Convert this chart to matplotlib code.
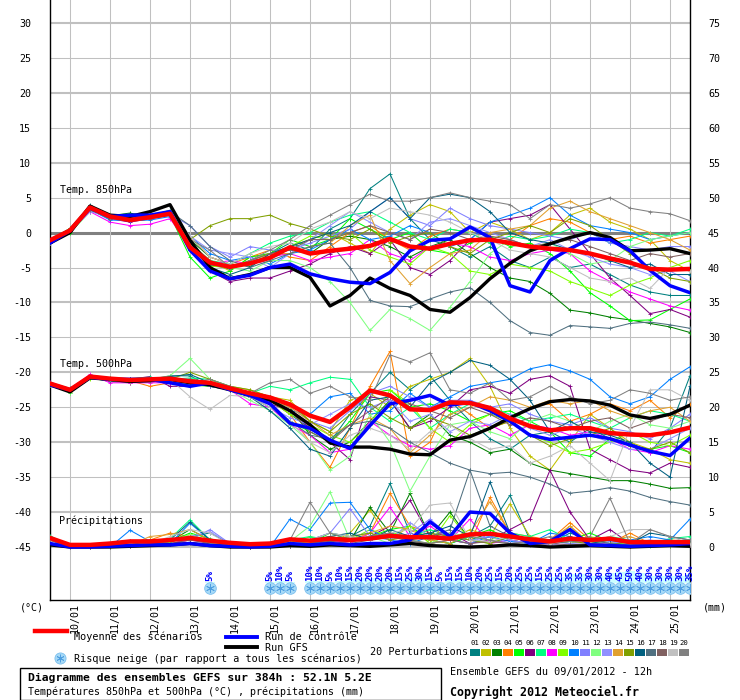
import numpy as np
import matplotlib
matplotlib.use("Agg")
import matplotlib.pyplot as plt
from matplotlib.lines import Line2D
from matplotlib.patches import Rectangle
from matplotlib.transforms import ScaledTranslation

plt.rcParams['font.family'] = ['DejaVu Sans Mono', 'DejaVu Sans']

# ---------------- data ----------------
hours = np.arange(0, 385, 12)          # 12-hourly steps, 0..384h
hours6 = np.arange(0, 385, 6)          # 6-hourly steps for snow risk
date_labels = ['10/01', '11/01', '12/01', '13/01', '14/01', '15/01', '16/01', '17/01',
               '18/01', '19/01', '20/01', '21/01', '22/01', '23/01', '24/01', '25/01']
date_hours = [12 + 24 * d for d in range(16)]

member_colors = ['#008080', '#c0c000', '#008000', '#ff8000', '#00ff00', '#800080', '#00ff80',
                 '#ff00ff', '#80ff00', '#0080ff', '#8080ff', '#80ff80', '#9090ff', '#e0a030',
                 '#80a000', '#006080', '#507080', '#806060', '#c0c0c0', '#808080']

t850_mean = [-1.1, 0.3, 3.6, 2.3, 1.8, 2.2, 2.7, -2.1, -4.3, -4.9, -4.4, -3.6, -2.1, -3.0, -2.6, -2.3, -1.9,
             -0.9, -2.0, -2.3, -1.6, -1.1, -1.0, -1.5, -2.0, -2.3, -2.5, -3.0, -3.7, -4.3, -5.2, -5.3, -5.2]
t850_gfs = [-1.5, 0.0, 3.8, 2.5, 2.3, 3.0, 4.0, -1.1, -5.0, -6.6, -6.0, -5.0, -5.0, -6.4, -10.5, -9.0, -6.5,
            -8.0, -9.0, -11.0, -11.4, -9.3, -6.6, -4.4, -2.6, -1.6, -0.7, 0.0, -0.7, -2.6, -2.5, -2.3, -3.0]
t850_ctrl = [-1.5, 0.3, 3.5, 2.3, 2.5, 2.5, 3.0, -2.5, -5.5, -6.6, -6.1, -5.0, -4.5, -5.9, -6.6, -7.1, -7.3,
             -5.7, -2.6, -1.1, -0.9, 0.8, -0.7, -7.6, -8.5, -4.0, -2.3, -0.9, -1.0, -2.6, -5.4, -7.6, -8.6]
t850_members = [
    [-1.0, 0.6, 3.9, 2.2, 2.0, 2.4, 3.2, -1.5, -4.6, -5.2, -4.0, -3.0, -1.5, -2.5, 0.5, 2.0, 6.3, 8.4, 2.0, -1.0, -2.0, -3.5, -2.0, -4.0, -5.0, -3.5, -5.0, -4.5, -6.0, -7.5, -8.5, -9.0, -9.0],
    [-1.3, 0.4, 3.6, 2.6, 2.4, 2.0, 3.0, -2.0, -4.0, -5.5, -3.5, -3.0, -2.0, -1.0, 0.0, -1.5, -3.0, 0.5, 2.5, 4.0, 3.0, 0.0, 1.5, 0.5, -1.0, 0.0, 2.5, 3.5, 1.5, 0.5, -1.0, -4.0, -5.5],
    [-1.5, 0.2, 3.4, 2.4, 2.8, 2.2, 2.8, -1.0, -3.5, -4.5, -4.8, -3.0, -2.5, -3.0, -1.0, -0.5, -1.0, -2.0, -3.5, -2.0, -1.0, -3.0, -5.0, -6.5, -7.0, -8.7, -11.1, -11.5, -12.1, -12.5, -13.0, -13.5, -14.3],
    [-1.2, 0.5, 3.2, 2.0, 2.3, 2.5, 2.9, -0.5, -3.5, -4.5, -3.5, -2.5, -3.5, -4.0, -2.0, 0.0, 1.0, -1.0, -2.5, -0.5, 0.5, 0.0, -1.5, -1.0, 1.0, 2.0, 1.5, 0.0, -1.0, -0.5, -1.5, -1.0, -0.5],
    [-1.5, 0.0, 3.0, 2.5, 1.8, 2.5, 2.5, -3.5, -6.5, -5.5, -3.5, -3.0, -1.0, -2.0, -1.0, 2.0, 0.5, -1.0, 0.0, -2.5, -3.0, -1.5, -0.5, -2.0, -1.5, -3.0, -5.5, -8.6, -10.5, -12.6, -12.5, -11.0, -9.5],
    [-1.5, 0.3, 3.3, 2.0, 1.5, 2.0, 2.5, -2.5, -5.5, -7.0, -6.5, -6.5, -5.5, -4.5, -3.0, -2.0, -3.0, -1.0, -5.0, -6.0, -4.0, -1.0, 1.5, 2.0, 2.5, 4.0, 0.5, -3.0, -6.5, -9.0, -11.6, -11.0, -12.1],
    [-1.0, 0.5, 3.5, 2.4, 2.0, 2.5, 3.0, -1.5, -4.0, -4.5, -3.0, -1.5, -0.5, 0.0, 1.5, 2.5, 3.0, 1.5, 0.0, -1.0, 0.5, 0.0, -1.5, -0.5, -1.0, -0.5, 0.5, 0.0, -1.5, -1.0, 0.0, -0.5, 0.5],
    [-1.5, 0.2, 3.0, 1.5, 1.0, 1.2, 2.0, -2.0, -4.5, -4.0, -4.5, -3.5, -3.0, -4.0, -3.5, -3.0, -1.0, -3.0, -4.0, -2.0, -1.5, -2.0, -3.5, -4.0, -3.0, -2.5, -3.0, -5.5, -7.0, -8.5, -9.5, -10.5, -11.1],
    [-1.3, 0.4, 3.6, 2.2, 2.0, 2.3, 2.8, -2.0, -4.8, -5.0, -4.0, -3.0, -2.0, -0.5, -1.0, 0.0, -2.5, -3.5, -4.5, -2.0, -3.0, -5.5, -6.0, -4.5, -5.0, -5.5, -7.0, -8.0, -9.0, -7.5, -6.5, -5.0, -4.0],
    [-1.2, 0.5, 3.3, 1.8, 1.7, 1.8, 2.3, -0.5, -3.0, -4.0, -3.5, -4.5, -3.0, -2.5, -1.0, 0.5, -1.0, -0.5, 1.0, 0.0, -2.0, -1.0, 1.5, 2.5, 3.5, 5.0, 2.5, 1.0, 0.5, 0.0, -1.0, -0.5, 0.0],
    [-1.4, 0.3, 3.4, 2.0, 1.8, 2.0, 2.6, 1.0, -2.0, -3.5, -2.0, -2.5, -2.5, -1.5, -0.5, 0.5, 3.0, 5.0, 2.0, 1.0, 3.5, 2.0, 1.0, 0.5, 0.0, -0.5, -1.0, 0.0, -1.5, -2.0, -2.5, -2.0, -2.0],
    [-1.0, 0.5, 3.5, 2.5, 2.0, 2.3, 2.7, -1.5, -4.0, -5.0, -5.5, -4.0, -4.0, -5.0, -7.0, -10.0, -14.0, -11.0, -12.3, -14.0, -10.7, -7.0, -3.0, -1.0, -2.0, -1.5, -3.0, -4.5, -4.0, -2.0, -1.0, -0.5, 0.0],
    [-1.5, 0.2, 3.0, 2.3, 2.2, 2.6, 3.0, -0.5, -2.5, -3.0, -3.5, -5.0, -3.0, -1.0, 1.0, 3.0, 1.5, 0.0, -1.0, 1.5, 2.0, 1.0, 0.0, -1.0, -2.0, -1.0, -2.5, -3.5, -4.5, -5.0, -6.0, -5.5, -7.0],
    [-1.3, 0.5, 3.7, 2.4, 2.5, 2.2, 2.8, -1.5, -4.0, -5.0, -4.5, -3.0, -3.0, -2.0, -1.5, 1.0, 2.5, -4.0, -7.3, -5.0, -3.0, -2.5, 0.0, 0.5, 1.0, 3.5, 4.5, 3.0, 2.0, 1.0, 0.0, -1.0, -2.5],
    [-1.2, 0.6, 3.5, 2.3, 2.5, 2.3, 3.0, -1.0, 1.0, 2.0, 2.0, 2.5, 1.3, 0.5, -0.5, -1.0, 0.5, -1.5, -0.5, 0.0, -2.0, -3.0, -1.0, 0.0, 1.0, 0.0, 2.0, 1.0, -1.0, -3.0, -5.0, -6.5, -7.0],
    [-1.5, 0.2, 3.4, 2.0, 2.5, 2.5, 2.8, -2.0, -5.0, -6.0, -5.0, -3.0, -2.0, -1.0, 0.0, 1.0, 3.0, 5.0, 2.0, 5.0, 5.5, 5.0, 3.0, 0.0, -1.0, -1.5, -2.5, -3.0, -4.0, -5.0, -4.5, -6.0, -6.0],
    [-1.4, 0.3, 3.5, 2.2, 2.3, 2.4, 3.0, 1.0, -2.0, -4.0, -5.0, -4.0, -3.0, -2.0, -1.5, -5.0, -9.7, -10.5, -10.6, -9.5, -8.5, -7.9, -10.0, -12.6, -14.3, -14.7, -13.3, -13.5, -13.7, -13.0, -12.8, -13.2, -13.7],
    [-1.3, 0.4, 3.3, 2.0, 2.0, 2.0, 2.5, -1.5, -4.0, -5.0, -4.0, -3.0, -2.5, -1.0, -1.0, 0.0, 1.0, 0.0, -1.0, 0.5, 0.0, -1.0, -0.5, -1.0, -2.0, -1.5, -1.0, -2.0, -3.0, -4.0, -3.0, -3.5, -3.0],
    [-1.2, 0.5, 3.6, 2.6, 2.3, 2.4, 3.1, -0.5, -3.5, -4.5, -3.0, -2.0, -1.5, 0.5, 1.5, 3.0, 2.0, 3.5, 3.0, 2.5, 1.5, 0.0, -1.0, -2.5, -3.0, -3.5, -5.0, -6.5, -7.0, -6.5, -8.0, -5.0, -5.5],
    [-1.5, 0.3, 3.4, 2.2, 2.1, 2.4, 2.9, -1.0, -2.5, -5.0, -4.0, -2.5, -1.0, 1.0, 2.5, 4.0, 5.5, 4.5, 4.5, 5.0, 5.7, 5.0, 4.5, 4.0, 2.0, 4.0, 3.5, 4.1, 5.0, 3.5, 3.0, 2.7, 1.7],
]

t500_mean = [-21.6, -22.5, -20.6, -20.9, -21.1, -21.0, -20.9, -21.3, -21.5, -22.3, -23.0, -23.6, -24.6, -26.2, -27.1,
             -25.0, -22.6, -23.3, -25.3, -25.4, -24.3, -24.4, -25.1, -26.6, -27.7, -28.3, -28.0, -28.0, -28.7,
             -28.9, -29.0, -28.6, -27.9]
t500_gfs = [-21.8, -22.8, -20.8, -21.0, -21.3, -21.2, -21.0, -21.5, -21.8, -22.5, -23.3, -24.0, -25.5, -27.5, -30.1,
            -30.7, -30.7, -31.0, -31.7, -31.8, -29.7, -29.2, -28.0, -26.5, -25.2, -24.2, -23.9, -24.1, -24.7,
            -26.1, -26.6, -26.0, -24.7]
t500_ctrl = [-21.8, -22.5, -20.7, -21.0, -21.0, -21.0, -21.5, -22.0, -21.5, -22.5, -23.3, -24.5, -27.3, -28.0, -29.7,
             -30.9, -27.6, -24.5, -24.0, -23.3, -24.7, -24.3, -25.5, -27.0, -29.0, -29.6, -29.3, -29.0, -29.5,
             -30.4, -31.3, -31.9, -29.4]
t500_members = [
    [-21.5, -22.3, -20.5, -21.0, -21.3, -21.0, -20.5, -20.5, -22.0, -22.5, -23.5, -24.0, -26.0, -28.0, -30.0, -26.0, -23.0, -20.0, -22.5, -20.5, -24.0, -27.0, -29.5, -31.0, -29.0, -28.5, -30.0, -28.0, -29.5, -30.0, -31.5, -28.0, -20.5],
    [-21.7, -22.6, -20.6, -21.0, -21.0, -20.8, -21.0, -21.2, -21.5, -22.0, -22.5, -23.5, -24.0, -27.0, -28.5, -24.0, -23.0, -25.0, -22.0, -21.0, -20.0, -18.0, -22.0, -28.0, -32.0, -34.0, -30.0, -26.0, -28.0, -30.0, -31.0, -32.5, -33.0],
    [-21.6, -22.7, -20.8, -21.3, -21.5, -21.0, -21.5, -21.0, -22.0, -22.0, -23.0, -23.5, -25.0, -29.0, -31.0, -30.0, -27.0, -24.0, -28.0, -26.0, -29.0, -30.0, -31.5, -31.0, -33.0, -34.0, -34.5, -35.0, -35.5, -35.5, -36.0, -36.6, -36.5],
    [-21.8, -22.8, -20.5, -20.9, -21.2, -22.0, -21.5, -21.0, -21.5, -22.5, -23.0, -24.0, -26.0, -30.0, -33.6, -28.0, -22.0, -17.0, -32.0, -30.0, -24.0, -26.0, -28.0, -27.0, -25.0, -24.5, -27.0, -26.0, -24.5, -25.5, -24.0, -26.5, -24.5],
    [-21.7, -22.9, -20.7, -21.1, -21.0, -21.3, -21.4, -21.8, -22.0, -22.5, -23.0, -24.5, -27.0, -28.5, -30.0, -27.0, -23.0, -22.5, -25.0, -24.5, -25.5, -27.0, -26.0, -25.5, -27.0, -28.5, -31.5, -32.0, -29.5, -30.5, -31.0, -30.5, -31.5],
    [-21.5, -22.5, -20.8, -21.2, -21.0, -20.6, -22.0, -22.0, -21.5, -22.5, -23.5, -24.5, -25.5, -28.0, -30.0, -32.5, -23.5, -24.0, -28.0, -27.0, -25.0, -22.5, -22.0, -23.0, -21.0, -20.5, -22.0, -31.0, -32.5, -34.0, -34.4, -33.0, -33.6],
    [-21.6, -22.6, -20.4, -20.8, -20.9, -20.7, -21.0, -20.8, -21.0, -22.0, -23.0, -22.0, -22.5, -21.5, -20.7, -21.0, -25.0, -27.0, -25.0, -28.0, -26.0, -24.5, -25.0, -26.0, -27.0, -26.5, -26.0, -27.0, -28.0, -26.5, -25.5, -26.0, -27.0],
    [-21.4, -22.4, -20.3, -21.5, -21.5, -21.5, -21.5, -21.2, -22.0, -22.5, -24.5, -25.0, -27.5, -29.0, -31.5, -31.0, -27.0, -29.0, -30.5, -31.0, -30.5, -28.0, -27.5, -29.0, -27.5, -28.0, -29.0, -28.5, -29.5, -31.0, -31.5, -30.5, -31.0],
    [-21.7, -22.6, -20.9, -21.0, -21.4, -21.0, -21.0, -21.3, -21.5, -22.0, -23.5, -24.0, -26.0, -27.5, -29.0, -30.0, -27.5, -22.5, -24.5, -28.0, -30.0, -27.5, -26.0, -27.0, -29.0, -30.0, -31.5, -31.0, -30.0, -28.5, -30.0, -30.5, -29.0],
    [-21.6, -22.5, -20.6, -21.0, -21.2, -21.0, -21.0, -21.2, -22.0, -22.5, -23.0, -24.0, -25.5, -26.0, -23.5, -23.0, -26.0, -25.5, -23.0, -25.0, -23.5, -22.0, -21.5, -21.0, -19.5, -18.9, -19.8, -21.0, -23.5, -24.5, -23.5, -21.0, -19.2],
    [-21.5, -22.4, -20.5, -20.9, -21.0, -21.0, -20.8, -21.0, -21.5, -22.0, -23.0, -24.0, -25.0, -27.0, -28.0, -25.5, -23.0, -22.0, -23.5, -25.0, -24.0, -24.0, -25.0, -24.5, -26.0, -27.0, -27.5, -26.5, -28.0, -28.5, -29.5, -28.0, -26.0],
    [-21.8, -22.9, -20.6, -21.1, -21.2, -21.1, -20.5, -18.0, -21.0, -22.5, -24.0, -25.5, -27.5, -30.0, -34.0, -32.0, -26.0, -30.0, -37.0, -32.0, -27.5, -27.0, -28.5, -29.5, -27.0, -26.0, -27.0, -28.5, -27.0, -26.0, -27.5, -28.0, -27.0],
    [-21.6, -22.5, -20.7, -21.0, -21.1, -21.2, -21.2, -21.0, -22.0, -22.3, -23.5, -25.0, -26.5, -27.5, -26.0, -24.5, -25.0, -24.0, -27.0, -26.0, -28.5, -27.0, -27.5, -26.0, -28.0, -29.0, -28.0, -29.0, -30.0, -31.0, -31.0, -29.5, -28.0],
    [-21.7, -22.6, -20.6, -21.0, -21.0, -21.2, -21.0, -21.0, -21.5, -22.0, -23.0, -24.0, -25.0, -27.0, -29.0, -27.5, -26.5, -28.0, -31.5, -29.0, -26.0, -25.0, -23.5, -24.0, -25.0, -24.0, -24.5, -24.0, -25.5, -26.5, -25.5, -25.0, -27.0],
    [-21.6, -22.5, -20.5, -20.8, -21.0, -20.9, -21.0, -20.0, -21.0, -22.0, -22.5, -23.5, -24.5, -27.0, -28.5, -26.0, -24.5, -26.5, -28.0, -26.5, -27.5, -29.0, -28.0, -27.0, -29.0, -30.5, -29.5, -29.0, -28.0, -30.5, -31.0, -30.0, -31.5],
    [-21.5, -22.4, -20.6, -21.0, -21.0, -21.0, -20.6, -20.3, -21.5, -22.5, -23.5, -25.5, -28.0, -31.0, -32.0, -28.0, -24.0, -23.5, -25.0, -21.5, -20.0, -18.3, -19.0, -21.0, -24.0, -28.5, -27.0, -28.5, -29.0, -30.0, -33.0, -35.0, -22.0],
    [-21.7, -22.7, -20.7, -21.2, -21.3, -21.2, -21.3, -21.5, -21.8, -22.5, -23.5, -25.0, -27.0, -29.0, -29.5, -27.5, -27.0, -28.0, -30.0, -31.5, -33.0, -34.0, -34.5, -34.3, -35.0, -36.0, -37.3, -37.0, -36.5, -37.0, -37.9, -38.5, -39.0],
    [-21.6, -22.6, -20.7, -21.0, -21.0, -21.1, -21.1, -21.0, -21.5, -22.5, -23.0, -24.0, -25.5, -28.5, -30.0, -27.5, -25.5, -23.5, -24.5, -25.5, -26.5, -25.0, -26.0, -27.5, -26.5, -27.0, -28.0, -27.0, -26.5, -28.0, -27.0, -26.0, -26.5],
    [-21.6, -22.6, -20.6, -21.0, -21.3, -21.1, -21.0, -23.5, -25.3, -23.3, -23.5, -25.0, -27.0, -30.0, -31.5, -29.0, -28.0, -29.0, -31.0, -28.5, -27.5, -29.5, -31.0, -30.5, -33.0, -32.0, -30.5, -33.0, -35.5, -28.0, -22.5, -22.5, -24.0],
    [-21.5, -22.5, -20.5, -21.0, -21.1, -21.0, -21.0, -21.5, -21.0, -22.0, -23.0, -21.5, -21.0, -23.0, -22.0, -23.5, -24.0, -17.5, -18.5, -17.2, -22.5, -23.0, -21.5, -24.0, -23.5, -22.0, -23.5, -24.5, -24.0, -22.5, -23.0, -24.0, -23.5],
]

precip_mean = [1.3, 0.3, 0.3, 0.5, 0.8, 0.8, 1.0, 1.3, 0.9, 0.6, 0.4, 0.5, 1.1, 0.9, 1.2, 1.0, 1.2, 1.6, 1.4,
               1.4, 1.2, 1.8, 1.9, 1.5, 1.1, 0.8, 1.2, 1.0, 1.2, 0.7, 0.7, 0.7, 0.7]
precip_ctrl = [0.5, 0.0, 0.0, 0.1, 0.2, 0.3, 0.3, 0.5, 0.2, 0.1, 0.0, 0.1, 0.5, 0.3, 0.5, 0.3, 0.5, 0.5, 1.0,
               3.6, 1.5, 5.0, 4.8, 2.0, 0.5, 0.8, 2.5, 0.3, 0.2, 0.1, 0.2, 0.3, 0.5]
precip_gfs = [0.3, 0.0, 0.0, 0.0, 0.1, 0.2, 0.3, 0.5, 0.2, 0.0, 0.0, 0.0, 0.2, 0.1, 0.3, 0.2, 0.1, 0.3, 0.5,
              0.2, 0.1, 0.0, 0.1, 0.3, 0.2, 0.0, 0.1, 0.2, 0.1, 0.0, 0.1, 0.2, 0.1]
precip_members = [
    [1.2, 0.1, 0, 0, 0.3, 0.5, 0.8, 1.5, 2.0, 0.5, 0.2, 0.1, 0.5, 1.0, 2.0, 1.5, 3.0, 9.1, 2.0, 1.0, 0.5, 1.5, 3.0, 7.4, 1.0, 0.5, 2.0, 1.0, 0.5, 0.3, 0.5, 1.0, 0.5],
    [1.0, 0, 0, 0, 0.2, 0.6, 1.0, 1.8, 0.8, 0.3, 0.1, 0, 0.3, 1.5, 0.5, 2.0, 5.3, 1.0, 3.0, 0.5, 1.0, 2.5, 1.5, 6.2, 1.5, 0.5, 3.0, 0.5, 1.0, 0.2, 0.3, 0.5, 0.3],
    [1.5, 0.1, 0, 0.1, 0.5, 0.8, 0.8, 2.5, 1.0, 0.2, 0, 0, 0.2, 0.5, 1.0, 0.8, 5.7, 2.0, 7.7, 1.5, 5.0, 1.0, 2.0, 1.0, 0.5, 0.8, 1.5, 0.5, 0.3, 1.0, 0.5, 0.2, 0.3],
    [1.2, 0, 0, 0, 0.3, 1.0, 2.0, 1.5, 0.5, 0.3, 0.2, 0.1, 0.5, 0.3, 1.0, 0.5, 2.0, 7.7, 3.0, 2.0, 1.0, 0.5, 7.1, 2.0, 1.5, 1.0, 3.5, 1.0, 0.5, 2.0, 0.5, 1.0, 0.8],
    [1.0, 0.1, 0, 0, 0.2, 0.5, 0.8, 2.0, 1.2, 0.3, 0.1, 0.2, 0.8, 0.5, 2.0, 1.0, 1.5, 2.5, 3.0, 1.0, 0.5, 1.5, 2.5, 1.0, 0.5, 0.5, 1.0, 2.0, 0.8, 0.5, 0.2, 0.5, 0.3],
    [1.3, 0, 0.1, 0, 0.8, 1.0, 0.5, 1.0, 0.8, 0.2, 0, 0, 0.3, 0.5, 0.8, 1.0, 1.5, 3.0, 6.7, 1.5, 2.0, 0.5, 1.0, 2.5, 4.0, 11.0, 5.0, 1.0, 2.5, 0.5, 0.8, 0.5, 0.5],
    [1.6, 0.2, 0, 0, 0.5, 0.8, 1.2, 3.9, 1.0, 0.3, 0.2, 0, 1.0, 1.5, 1.0, 1.5, 1.0, 2.0, 1.5, 2.5, 1.5, 1.0, 1.5, 2.0, 1.5, 2.5, 1.0, 0.8, 1.5, 1.0, 0.5, 1.2, 1.5],
    [1.0, 0, 0, 0, 0.2, 0.8, 0.5, 1.0, 0.5, 0.1, 0, 0, 0.2, 0.5, 1.0, 0.5, 2.0, 5.7, 1.5, 3.0, 1.0, 4.0, 0.5, 1.0, 0.5, 0.3, 1.0, 0.5, 0.5, 0.2, 0.5, 0.3, 0.3],
    [1.2, 0.1, 0, 0, 0.3, 0.5, 0.7, 1.5, 0.8, 0.2, 0.1, 0, 0.5, 0.8, 1.5, 1.0, 2.5, 1.5, 3.0, 0.5, 4.5, 1.0, 0.5, 1.5, 0.8, 1.0, 0.5, 1.5, 0.8, 0.3, 0.5, 0.2, 0.5],
    [1.1, 0, 0, 0, 2.4, 0.8, 0.5, 3.4, 1.0, 0.2, 0, 0, 4.0, 2.5, 6.3, 6.4, 2.5, 1.0, 0.5, 1.5, 1.0, 0.5, 1.5, 0.8, 0.5, 2.0, 1.5, 0.5, 0.3, 1.0, 1.5, 1.0, 4.0],
    [1.0, 0, 0, 0, 0.5, 0.5, 1.2, 1.0, 2.5, 0.5, 0.1, 0.1, 0.3, 1.0, 2.0, 5.5, 1.5, 1.0, 2.0, 4.0, 1.5, 1.0, 1.5, 0.5, 0.8, 1.0, 0.5, 0.3, 0.8, 0.5, 1.0, 0.5, 0.5],
    [1.3, 0.1, 0, 0, 0.3, 0.6, 0.8, 1.8, 0.5, 0.2, 0.1, 0, 0.8, 3.0, 7.9, 1.0, 1.5, 0.5, 1.0, 0.5, 2.0, 1.5, 1.0, 2.0, 1.0, 0.5, 1.0, 0.8, 0.5, 0.3, 0.5, 0.8, 1.0],
    [1.2, 0, 0, 0, 0.3, 0.5, 0.8, 1.5, 2.2, 0.5, 0.1, 0, 0.3, 0.5, 1.0, 1.5, 2.0, 1.0, 3.5, 1.5, 1.0, 0.5, 2.0, 1.0, 0.5, 0.3, 0.5, 1.0, 0.5, 1.0, 0.3, 0.5, 0.5],
    [1.0, 0.1, 0, 0, 0.3, 1.5, 1.8, 2.5, 1.0, 0.3, 0.1, 0, 0.5, 1.0, 1.5, 1.0, 2.0, 3.0, 2.5, 1.0, 0.5, 2.0, 6.5, 2.0, 0.5, 1.0, 3.0, 0.5, 1.0, 1.5, 0.5, 0.5, 0.8],
    [1.1, 0, 0, 0, 0.2, 0.5, 0.8, 1.5, 0.8, 0.2, 0, 0, 0.3, 0.5, 1.0, 1.5, 2.0, 1.0, 1.5, 2.0, 1.5, 1.0, 0.5, 1.5, 1.0, 0.5, 0.8, 0.5, 0.3, 0.8, 0.5, 0.3, 0.5],
    [1.2, 0.1, 0, 0, 0.3, 0.8, 1.0, 3.6, 1.0, 0.2, 0, 0, 0.5, 1.0, 1.5, 2.0, 1.0, 2.5, 1.5, 2.0, 3.0, 1.5, 9.3, 2.0, 1.0, 0.5, 1.5, 0.5, 1.0, 0.5, 2.0, 1.5, 1.0],
    [1.3, 0, 0, 0, 0.3, 0.5, 0.8, 1.2, 0.5, 0.1, 0, 0, 0.2, 0.5, 1.0, 0.8, 1.5, 2.0, 1.0, 1.5, 2.5, 11.0, 3.0, 1.5, 1.0, 0.5, 0.8, 1.0, 0.5, 0.3, 0.5, 0.5, 0.3],
    [1.0, 0, 0, 0, 0.2, 0.3, 0.5, 1.0, 0.5, 0.1, 0, 0, 0.2, 0.3, 0.8, 0.5, 1.0, 1.5, 0.8, 0.5, 1.0, 0.5, 0.8, 0.5, 0.3, 0.5, 0.3, 0.5, 0.3, 0.2, 0.5, 0.3, 0.3],
    [1.2, 0, 0, 0, 0.3, 0.5, 1.5, 2.5, 2.0, 0.3, 0.1, 0, 0.5, 1.0, 2.0, 1.5, 1.0, 2.0, 2.5, 6.0, 6.3, 1.0, 0.8, 1.5, 1.0, 0.5, 1.0, 0.8, 1.5, 2.5, 2.5, 1.5, 0.5],
    [1.1, 0, 0, 0, 0.2, 0.5, 0.8, 1.5, 0.5, 0.2, 0.1, 0, 1.0, 6.4, 2.0, 1.0, 1.5, 2.0, 1.0, 0.5, 1.0, 1.5, 1.0, 0.5, 0.8, 1.5, 0.8, 1.5, 7.0, 0.5, 2.5, 1.5, 1.0],
]

snow_risk = ([0] * 16 + [5] + [0] * 5 + [5, 10, 5] + [0] +
             [10, 10, 5, 10, 15, 20, 20, 20, 20, 15, 25, 30, 15, 5, 15, 15, 10, 20, 25, 15] +
             [20, 25, 25, 15, 25, 25, 35, 35, 30, 30, 40, 45, 50, 40, 30, 30, 30, 30, 35])

# ---------------- layout helpers ----------------
W, H = 740, 700
PX = 524 / 75.0                    # pixels per unit on the vertical scale
PRECIP_BASE = -45                  # precipitation zero line on the left scale


def yv(py):
    return 30 - (py - 23) / PX


def hx(px):
    return (px - 50) * 384 / 640.0


def fx(px):
    return px / W


def fy(py):
    return 1 - py / H


fig = plt.figure(figsize=(7.4, 7.0), dpi=100)
ax = fig.add_axes([50 / W, 100 / H, 640 / W, 600 / H])
ax.set_xlim(0, 384)
ax.set_ylim(yv(600), yv(0))

# grid
for v in range(-45, 31, 5):
    if v == 0:
        ax.axhline(v, color='#808080', lw=2.2, zorder=1)
    elif v % 10 == 0 or v == -45:
        ax.axhline(v, color='#c0c0c0', lw=1.5, zorder=1)
    else:
        ax.axhline(v, color='#c0c0c0', lw=0.75, zorder=1)
for h in date_hours:
    ax.axvline(h, color='#c0c0c0', lw=0.75, zorder=1)

for s in ['left', 'right', 'bottom']:
    ax.spines[s].set_color('black')
    ax.spines[s].set_linewidth(1.0)
ax.spines['top'].set_visible(False)

ax.set_yticks(range(-45, 31, 5))
ax.set_yticklabels([str(v) for v in range(-45, 31, 5)])
ax.tick_params(axis='y', length=0, pad=13.5, labelsize=7.2)
sec = ax.secondary_yaxis('right', functions=(lambda v: v - PRECIP_BASE, lambda v: v + PRECIP_BASE))
sec.set_yticks(range(0, 76, 5))
sec.set_yticklabels([str(v) for v in range(0, 76, 5)])
sec.tick_params(axis='y', length=0, pad=13, labelsize=7.2)
sec.spines['right'].set_visible(False)

ax.set_xticks(date_hours)
ax.set_xticklabels(date_labels, rotation=90, fontsize=7.2)
ax.tick_params(axis='x', length=0, pad=2)
for lbl in ax.get_xticklabels():
    lbl.set_transform(lbl.get_transform() + ScaledTranslation(5 / 100, 0, fig.dpi_scale_trans))

# members
mkw = dict(lw=0.75, marker='+', ms=3, mew=0.6, zorder=3)
for c, t850, t500, pr in zip(member_colors, t850_members, t500_members, precip_members):
    ax.plot(hours, t850, color=c, **mkw)
    ax.plot(hours, t500, color=c, **mkw)
    ax.plot(hours, np.array(pr) + PRECIP_BASE, color=c, **mkw)

main_styles = [('black', 2.4), ('#0000ff', 2.5), ('#ff0000', 3.2)]
for series_set, offset in [((t850_gfs, t850_ctrl, t850_mean), 0),
                           ((t500_gfs, t500_ctrl, t500_mean), 0),
                           ((precip_gfs, precip_ctrl, precip_mean), PRECIP_BASE)]:
    for series, (c, lw) in zip(series_set, main_styles):
        ax.plot(hours, np.array(series) + offset, color=c, lw=lw, zorder=4, solid_joinstyle='round')

# in-plot labels
ax.text(hx(60), yv(190), 'Temp. 850hPa', fontsize=7.2, va='center', ha='left', zorder=6)
ax.text(hx(60), yv(364), 'Temp. 500hPa', fontsize=7.2, va='center', ha='left', zorder=6)
ax.text(hx(59), yv(521), 'Précipitations', fontsize=7.2, va='center', ha='left', zorder=6)

# snow risk band
snow_h = np.array([h for h, p in zip(hours6, snow_risk) if p > 0])
snow_p = np.array([p for p in snow_risk if p > 0])
ax.bar(snow_h, snow_p * 0.25 / PX, bottom=yv(583), width=6, color='#ccffff', zorder=2)
ax.scatter(snow_h, np.full(len(snow_h), yv(588)), s=70, marker='o', facecolor='#a6d9f7',
           edgecolor='#7cc0ee', linewidths=0.6, zorder=5)
ax.scatter(snow_h, np.full(len(snow_h), yv(588)), s=34, marker=(6, 2, 0), color='#4f9fe0',
           linewidths=0.6, zorder=6)
for h, p in zip(snow_h, snow_p):
    ax.text(h, yv(581), f'{p}%', rotation=90, ha='center', va='bottom', fontsize=6.6,
            fontweight='bold', color='#0000ff', zorder=7)

# axis unit labels
fig.text(fx(20), fy(607), '(°C)', fontsize=7.2, va='center', ha='left')
fig.text(fx(703), fy(607), '(mm)', fontsize=7.2, va='center', ha='left')

# legend
fig.add_artist(Line2D([fx(35), fx(67)], [fy(631)] * 2, color='#ff0000', lw=3.2))
fig.text(fx(74), fy(637), 'Moyenne des scénarios', fontsize=7.3, va='center')
fig.add_artist(Line2D([fx(226), fx(257)], [fy(637)] * 2, color='#0000ff', lw=2.8))
fig.text(fx(265), fy(637), 'Run de contrôle', fontsize=7.3, va='center')
fig.add_artist(Line2D([fx(226), fx(257)], [fy(647)] * 2, color='black', lw=2.8))
fig.text(fx(265), fy(648), 'Run GFS', fontsize=7.3, va='center')
fig.add_artist(Line2D([fx(60)], [fy(658)], marker='o', ms=8, mfc='#a6d9f7', mec='#7cc0ee', mew=0.6))
fig.add_artist(Line2D([fx(60)], [fy(658)], marker=(6, 2, 0), ms=5.5, color='#4f9fe0', mew=0.6))
fig.text(fx(74), fy(659), 'Risque neige (par rapport a tous les scénarios)', fontsize=7.3, va='center')

fig.text(fx(370), fy(652), '20 Perturbations', fontsize=7.3, va='center')
for k, c in enumerate(member_colors):
    x0 = 470 + 11 * k
    fig.text(fx(x0 + 5), fy(643), f'{k + 1:02d}', fontsize=5.2, ha='center', va='center')
    fig.add_artist(Rectangle((fx(x0), fy(656)), 10 / W, 7 / H, transform=fig.transFigure,
                             facecolor=c, edgecolor='none'))

fig.add_artist(Rectangle((fx(20), fy(699.5)), 421 / W, 32 / H, transform=fig.transFigure,
                         fill=False, edgecolor='black', lw=1.0))
fig.text(fx(28), fy(678), 'Diagramme des ensembles GEFS sur 384h : 52.1N 5.2E', fontsize=8.2,
         fontweight='bold', va='center')
fig.text(fx(28), fy(692), 'Températures 850hPa et 500hPa (°C) , précipitations (mm)', fontsize=7.2,
         va='center')
fig.text(fx(450), fy(672), 'Ensemble GEFS du 09/01/2012 - 12h', fontsize=7.3, va='center')
fig.text(fx(450), fy(692), 'Copyright 2012 Meteociel.fr', fontsize=8.4, fontweight='bold', va='center')

fig.savefig('out.png', dpi=100, facecolor='white')
